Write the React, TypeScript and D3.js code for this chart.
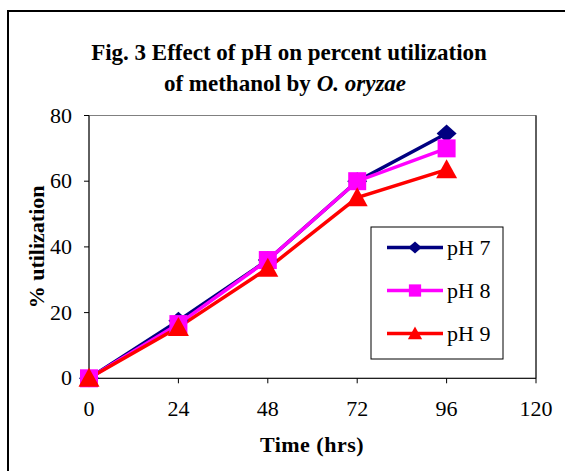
import React from "react";
import * as d3 from "d3";

const times = [0, 24, 48, 72, 96];
const seriesNames = ["pH 7", "pH 8", "pH 9"];
const ph7 = [0, 17.5, 36, 60, 74.5];
const ph8 = [0, 16.5, 36, 60, 70];
const ph9 = [0, 15.5, 33.5, 55, 63.5];
const xTicks = [0, 24, 48, 72, 96, 120];
const yTicks = [0, 20, 40, 60, 80];
const colors = ["#000080", "#FF00FF", "#FF0000"];
const markers = ["diamond", "square", "triangle"];

const W = 565, H = 471;
const left = 89, right = 536, top = 115.5, bottom = 378.3;
const FONT = "Liberation Serif";

function Marker({ type, x, y, color, k = 1 }: { type: string; x: number; y: number; color: string; k?: number }) {
  if (type === "diamond") {
    const w = 10 * k, h = 9 * k;
    return <path d={`M${x},${y - h}L${x + w},${y}L${x},${y + h}L${x - w},${y}Z`} fill={color} />;
  }
  if (type === "square") {
    const s = 9 * k;
    return <rect x={x - s} y={y - s} width={2 * s} height={2 * s} fill={color} />;
  }
  const w = 10.5 * k, h = 19 * k;
  return <path d={`M${x},${y - h * 0.55}L${x + w},${y + h * 0.45}L${x - w},${y + h * 0.45}Z`} fill={color} />;
}

export default function App() {
  const x = d3.scaleLinear().domain([0, 120]).range([left, right]);
  const y = d3.scaleLinear().domain([0, 80]).range([bottom, top]);
  const data = [ph7, ph8, ph9];
  const line = d3.line<number>().x((_, i) => x(times[i])).y((d) => y(d));
  const legY = [247.5, 290.5, 333.5];
  const ts = { fontFamily: FONT };
  return (
    <svg width={W} height={H} style={{ position: "absolute", left: 0, top: 0, background: "#fff", fontFamily: FONT }}>
      <rect x={0} y={0} width={W} height={H} fill="#fff" />
      <rect x={8} y={11} width={600} height={500} fill="none" stroke="#000" strokeWidth={2} />
      <text x={289} y={60} textAnchor="middle" fontSize={23} fontWeight="bold" style={ts}>
        Fig. 3 Effect of pH on percent utilization
      </text>
      <text x={285} y={91} textAnchor="middle" fontSize={23} fontWeight="bold" style={ts}>
        of methanol by <tspan fontStyle="italic">O. oryzae</tspan>
      </text>
      <rect x={left} y={top} width={right - left} height={bottom - top} fill="none" stroke="#808080" strokeWidth={1} />
      <line x1={left} x2={left} y1={top} y2={bottom} stroke="#000" />
      <line x1={left} x2={right} y1={bottom} y2={bottom} stroke="#000" />
      <line x1={right} x2={right} y1={top} y2={bottom} stroke="#000" />
      {yTicks.map((t) => (
        <g key={"y" + t}>
          <line x1={left - 5} x2={left} y1={y(t)} y2={y(t)} stroke="#000" />
          <text x={left - 17} y={y(t) + 7} textAnchor="end" fontSize={22} style={ts}>{t}</text>
        </g>
      ))}
      {xTicks.map((t) => (
        <g key={"x" + t}>
          <line x1={x(t)} x2={x(t)} y1={bottom} y2={bottom + 5} stroke="#000" />
          <text x={x(t)} y={bottom + 38} textAnchor="middle" fontSize={22} style={ts}>{t}</text>
        </g>
      ))}
      <text x={312} y={452} textAnchor="middle" fontSize={22} fontWeight="bold" letterSpacing={0.5} style={ts}>Time (hrs)</text>
      <text transform={`translate(44,${(top + bottom) / 2}) rotate(-90)`} textAnchor="middle" fontSize={22} fontWeight="bold" style={ts}>% utilization</text>
      {data.map((d, i) => (
        <path key={"l" + i} d={line(d) || ""} fill="none" stroke={colors[i]} strokeWidth={3.5} />
      ))}
      {data.map((d, i) => (
        <g key={"m" + i}>
          {d.map((v, j) => (
            <Marker key={j} type={markers[i]} x={x(times[j])} y={y(v)} color={colors[i]} />
          ))}
        </g>
      ))}
      <rect x={371} y={227} width={132} height={132} fill="#fff" stroke="#000" strokeWidth={1} />
      {seriesNames.map((n, i) => (
        <g key={"lg" + i}>
          <line x1={387} x2={443} y1={legY[i]} y2={legY[i]} stroke={colors[i]} strokeWidth={3.5} />
          <Marker type={markers[i]} x={415} y={legY[i]} color={colors[i]} k={0.68} />
          <text x={447} y={legY[i] + 7} fontSize={22} style={ts}>{n}</text>
        </g>
      ))}
    </svg>
  );
}
